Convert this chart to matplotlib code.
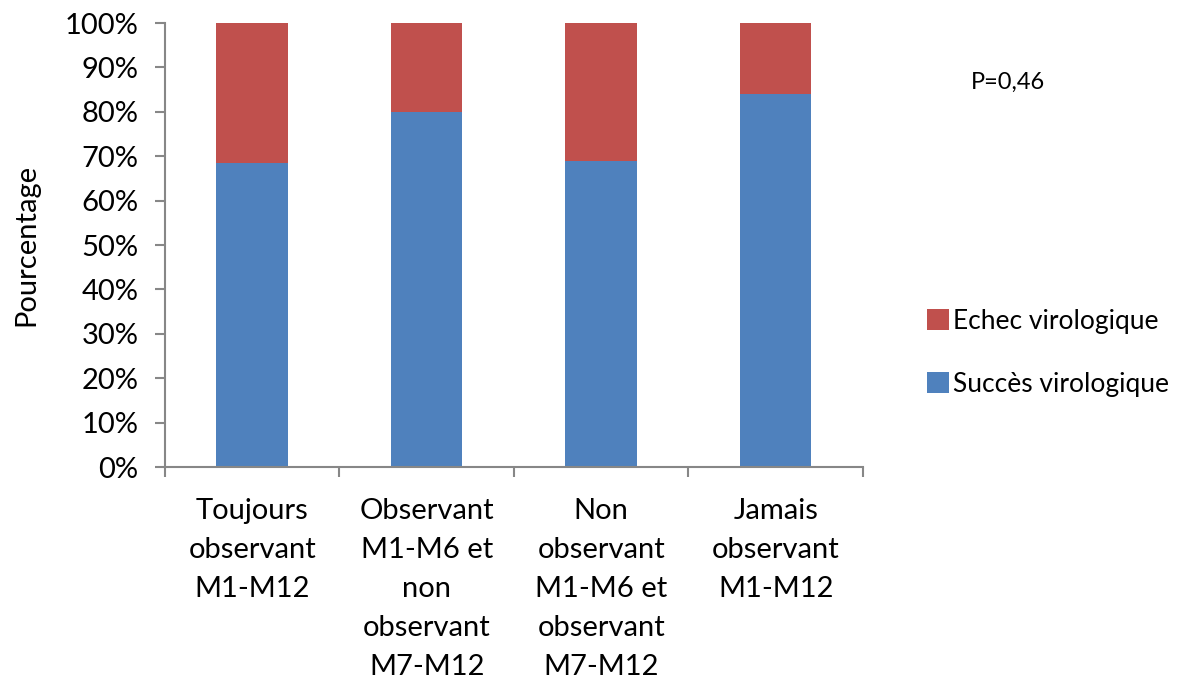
import matplotlib.pyplot as plt
import numpy as np

plt.rcParams['font.family'] = ['Lato', 'DejaVu Sans']

categories = ["Toujours\nobservant\nM1-M12",
              "Observant\nM1-M6 et\nnon\nobservant\nM7-M12",
              "Non\nobservant\nM1-M6 et\nobservant\nM7-M12",
              "Jamais\nobservant\nM1-M12"]
succes = [68.5, 80.0, 69.0, 84.0]
echec = [31.5, 20.0, 31.0, 16.0]
yticks = [0, 10, 20, 30, 40, 50, 60, 70, 80, 90, 100]

blue = '#4f81bd'
red = '#c0504d'
grey = '#878787'

fig = plt.figure(figsize=(11.91, 6.89), dpi=100)
ax = fig.add_axes([0.1385, 0.3222, 0.586, 0.6444])

x = np.arange(len(categories))
b1 = ax.bar(x, succes, width=0.41, color=blue, label='Succès virologique')
b2 = ax.bar(x, echec, width=0.41, bottom=succes, color=red, label='Echec virologique')

ax.set_xlim(-0.5, len(categories) - 0.5)
ax.set_ylim(0, 100)
ax.set_yticks(yticks)
ax.set_yticklabels(["{}%".format(v) for v in yticks], fontsize=21)
ax.set_xticks(x)
ax.set_xticklabels(categories, fontsize=21, linespacing=1.62, va='top')
ax.set_xticks(np.arange(-0.5, len(categories)), minor=True)
ax.tick_params(axis='x', which='major', length=0, pad=22)
ax.tick_params(axis='x', which='minor', length=7, color=grey, width=1.5, direction='out')
ax.tick_params(axis='y', length=7, color=grey, width=1.5, direction='out', pad=12)

for s in ['top', 'right']:
    ax.spines[s].set_visible(False)
for s in ['left', 'bottom']:
    ax.spines[s].set_color(grey)
    ax.spines[s].set_linewidth(1.5)

ax.set_ylabel('Pourcentage', fontsize=21, labelpad=18)

fig.legend([b2, b1], ['Echec virologique', 'Succès virologique'],
           loc='center left', bbox_to_anchor=(0.758, 0.488), frameon=False,
           fontsize=19, handlelength=0.85, handleheight=0.85, handletextpad=0.15,
           labelspacing=1.45)

fig.text(0.815, 0.88, 'P=0,46', fontsize=17, va='center')

plt.savefig('out.png', dpi=100)
